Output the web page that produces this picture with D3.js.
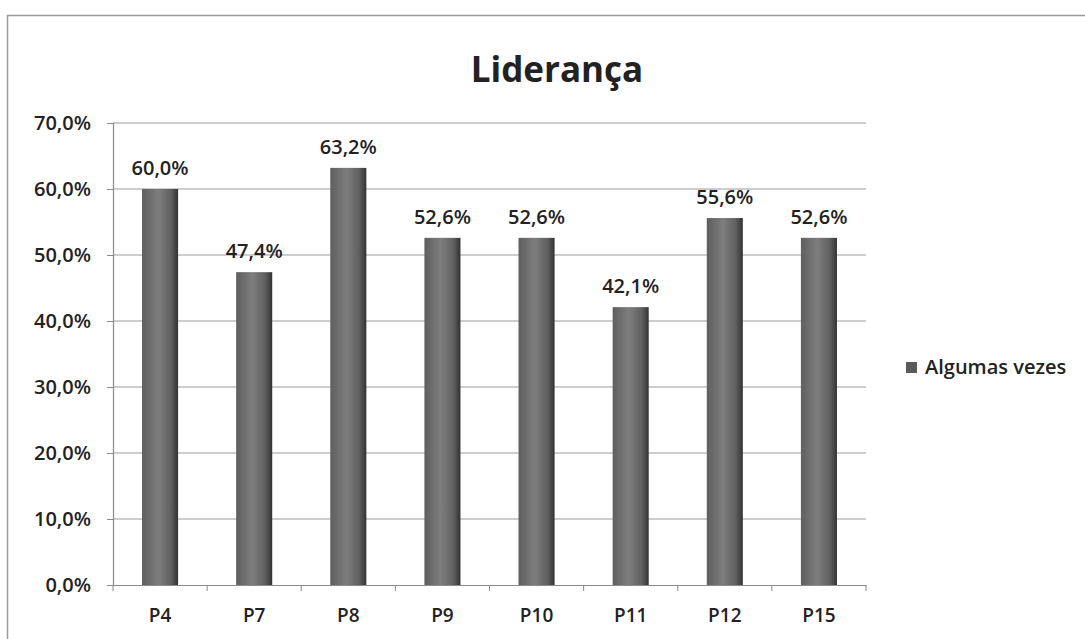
<!DOCTYPE html>
<html>
<head>
<meta charset="utf-8">
<script src="https://cdn.jsdelivr.net/npm/d3@7"></script>
<style>
  body { margin: 0; background: #fff; }
  svg { display: block; }
  text { font-family: "Open Sans", "DejaVu Sans", sans-serif; fill: #222; }
</style>
</head>
<body>
<div id="chart"></div>
<script>
let categories = ["P4", "P7", "P8", "P9", "P10", "P11", "P12", "P15"],
  values = [60.0, 47.4, 63.2, 52.6, 52.6, 42.1, 55.6, 52.6],
  yTicks = [0, 10, 20, 30, 40, 50, 60, 70],
  seriesName = "Algumas vezes",
  title = "Liderança";

let fmt = (v) => v.toFixed(1).replace(".", ",") + "%";

let draw = () => {
  var W = 1085,
    H = 639,
    margin = { top: 123, right: 219, bottom: 54, left: 113 },
    width = W - margin.left - margin.right,
    height = H - margin.top - margin.bottom;

  var root = d3
    .select("#chart")
    .append("svg")
    .attr("width", W)
    .attr("height", H);

  // outer chart border (top + left visible in the scan)
  root
    .append("path")
    .attr("d", `M7.5 ${H} L7.5 15.5 L${W} 15.5`)
    .attr("fill", "none")
    .attr("stroke", "#9a9a9a")
    .attr("stroke-width", 1.5);

  var defs = root.append("defs");
  var grad = defs
    .append("linearGradient")
    .attr("id", "barGrad")
    .attr("x1", "0%")
    .attr("x2", "100%");
  grad.append("stop").attr("offset", "0%").attr("stop-color", "#5e5e5e");
  grad.append("stop").attr("offset", "45%").attr("stop-color", "#7e7e7e");
  grad.append("stop").attr("offset", "80%").attr("stop-color", "#606060");
  grad.append("stop").attr("offset", "100%").attr("stop-color", "#333");

  root
    .append("text")
    .attr("x", 557)
    .attr("y", 82)
    .attr("text-anchor", "middle")
    .attr("font-size", 35)
    .attr("font-weight", "bold")
    .text(title);

  var svg = root
    .append("g")
    .attr("transform", `translate(${margin.left}, ${margin.top})`);

  var Xaxis = d3
      .scaleBand()
      .domain(categories)
      .range([0, width])
      .paddingInner(0.617)
      .paddingOuter(0.3085),
    Yaxis = d3.scaleLinear().domain([0, 70]).range([height, 0]);

  // gridlines
  svg
    .selectAll(".grid")
    .data(yTicks.slice(1))
    .enter()
    .append("line")
    .attr("x1", 0)
    .attr("x2", width)
    .attr("y1", (d) => Yaxis(d))
    .attr("y2", (d) => Yaxis(d))
    .attr("stroke", "#9c9c9c")
    .attr("stroke-width", 1.2);

  // y axis
  var yAx = svg
    .append("g")
    .call(
      d3
        .axisLeft(Yaxis)
        .tickValues(yTicks)
        .tickSize(6)
        .tickPadding(16)
        .tickFormat(fmt)
    );
  yAx.select(".domain").attr("stroke", "#8a8a8a").attr("stroke-width", 1.2);
  yAx.selectAll(".tick line").attr("stroke", "#8a8a8a");
  yAx
    .selectAll("text")
    .attr("font-size", 20)
    .attr("font-weight", 600)
    .attr("fill", "#222");

  // x axis
  var xAx = svg
    .append("g")
    .attr("transform", `translate(0, ${height})`)
    .call(d3.axisBottom(Xaxis).tickSize(0).tickPadding(24));
  xAx.select(".domain").attr("stroke", "#8a8a8a").attr("stroke-width", 1.2);
  xAx
    .selectAll("text")
    .attr("font-size", 19)
    .attr("font-weight", 600)
    .attr("fill", "#222");
  var step = Xaxis.step();
  xAx
    .selectAll(".sep")
    .data(d3.range(categories.length + 1))
    .enter()
    .append("line")
    .attr("x1", (i) => i * step)
    .attr("x2", (i) => i * step)
    .attr("y1", 0)
    .attr("y2", 6)
    .attr("stroke", "#8a8a8a");

  // bars
  svg
    .selectAll(".bar")
    .data(values)
    .enter()
    .append("rect")
    .attr("x", (d, i) => Xaxis(categories[i]))
    .attr("y", (d) => Yaxis(d))
    .attr("width", Xaxis.bandwidth())
    .attr("height", (d) => height - Yaxis(d))
    .attr("fill", "url(#barGrad)");

  // data labels
  svg
    .selectAll(".lbl")
    .data(values)
    .enter()
    .append("text")
    .attr("x", (d, i) => Xaxis(categories[i]) + Xaxis.bandwidth() / 2)
    .attr("y", (d) => Yaxis(d) - 14)
    .attr("text-anchor", "middle")
    .attr("font-size", 20)
    .attr("font-weight", 600)
    .text(fmt);

  // legend
  var lg = root.append("g").attr("transform", "translate(906, 367)");
  lg.append("rect")
    .attr("x", 0)
    .attr("y", -5)
    .attr("width", 11)
    .attr("height", 11)
    .attr("fill", "#5a5a5a");
  lg.append("text")
    .attr("x", 19)
    .attr("y", 7)
    .attr("font-size", 20)
    .attr("font-weight", 600)
    .text(seriesName);
};

draw();
</script>
</body>
</html>
